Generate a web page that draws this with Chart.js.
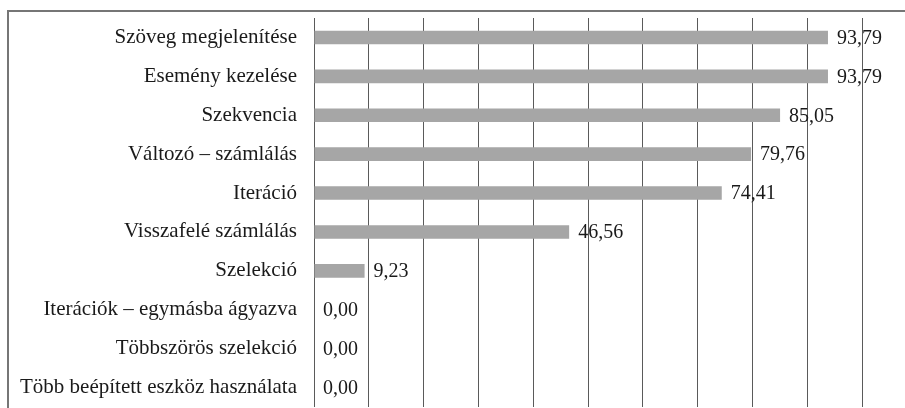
<!DOCTYPE html>
<html>
<head>
<meta charset="utf-8">
<script src="https://cdn.jsdelivr.net/npm/chart.js@4"></script>
<style>
  html, body { margin: 0; padding: 0; background: #fff; }
  canvas { display: block; }
</style>
</head>
<body>
<canvas id="chartCanvas" width="905" height="408"></canvas>
<script>
const categories = [
  "Szöveg megjelenítése",
  "Esemény kezelése",
  "Szekvencia",
  "Változó – számlálás",
  "Iteráció",
  "Visszafelé számlálás",
  "Szelekció",
  "Iterációk – egymásba ágyazva",
  "Többszörös szelekció",
  "Több beépített eszköz használata"
];
const values = [93.79, 93.79, 85.05, 79.76, 74.41, 46.56, 9.23, 0, 0, 0];
const axisMin = 0;
const axisMax = 100;
const axisStep = 10;

const serif = "'Liberation Serif', 'Times New Roman', serif";

// outer frame, only top and left edges are visible in the crop
const framePlugin = {
  id: "frame",
  beforeDraw(chart) {
    const ctx = chart.ctx;
    ctx.save();
    ctx.strokeStyle = "#767676";
    ctx.lineWidth = 2;
    ctx.beginPath();
    ctx.moveTo(8, chart.height);
    ctx.lineTo(8, 11);
    ctx.lineTo(chart.width, 11);
    ctx.stroke();
    ctx.restore();
  }
};

// value labels right of each bar, hungarian decimal comma
const valueLabels = {
  id: "valueLabels",
  afterDatasetsDraw(chart) {
    const ctx = chart.ctx;
    const meta = chart.getDatasetMeta(0);
    ctx.save();
    ctx.font = "20px " + serif;
    ctx.fillStyle = "#1a1a1a";
    ctx.textAlign = "left";
    ctx.textBaseline = "middle";
    meta.data.forEach((bar, i) => {
      const txt = values[i].toFixed(2).replace(".", ",");
      ctx.fillText(txt, bar.x + 9, bar.y + 1);
    });
    ctx.restore();
  }
};

const ctx = document.getElementById("chartCanvas").getContext("2d");
const myChart = new Chart(ctx, {
  type: "bar",
  data: {
    labels: categories,
    datasets: [{
      data: values,
      backgroundColor: "#a6a6a6",
      borderWidth: 0,
      barPercentage: 0.35,
      categoryPercentage: 1
    }]
  },
  options: {
    indexAxis: "y",
    responsive: false,
    animation: false,
    devicePixelRatio: 1,
    layout: {
      padding: { top: 18, right: 43, bottom: 1, left: 0 }
    },
    scales: {
      x: {
        min: axisMin,
        max: axisMax,
        ticks: { display: false, stepSize: axisStep },
        grid: { color: "#5a5a5a", lineWidth: 1, drawTicks: false },
        border: { display: false },
        afterFit(scale) {
          scale.height = 0;
        }
      },
      y: {
        grid: { display: false, drawTicks: false },
        border: { display: false },
        ticks: {
          padding: 17,
          color: "#1a1a1a",
          font: { family: serif, size: 21 }
        },
        afterFit(scale) {
          scale.width = 314;
          // tick padding is also added above/below, drop it
          scale.paddingTop = 0;
          scale.paddingBottom = 0;
        }
      }
    },
    plugins: {
      legend: { display: false },
      tooltip: { enabled: false }
    }
  },
  plugins: [framePlugin, valueLabels]
});
</script>
</body>
</html>
